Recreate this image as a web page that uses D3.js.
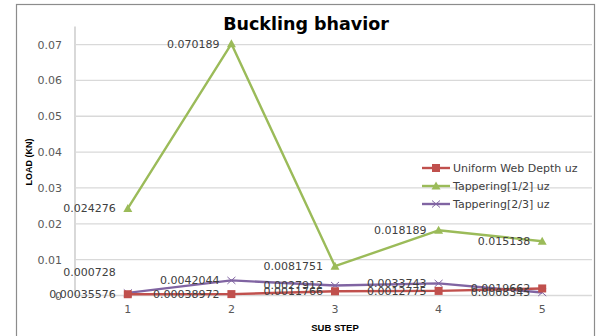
<!DOCTYPE html>
<html>
<head>
<meta charset="utf-8">
<script src="https://cdn.jsdelivr.net/npm/d3@7"></script>
<style>
  html, body { margin: 0; padding: 0; background: #fff; }
  svg { display: block; }
</style>
</head>
<body>
<svg id="chart" width="597" height="336"></svg>
<script>
// Sub-step categories and load values (KN) for each web configuration
const subSteps = [1, 2, 3, 4, 5];
const uniformWebDepth = [0.00035576, 0.00038972, 0.0011766, 0.0012775, 0.0019662];
const tapering12 = [0.024276, 0.070189, 0.0081751, 0.018189, 0.015138];
const tapering23 = [0.000728, 0.0042044, 0.0027912, 0.0033743, 0.0008345];
const yTicks = [0, 0.01, 0.02, 0.03, 0.04, 0.05, 0.06, 0.07];
const seriesNames = ["Uniform Web Depth uz", "Tappering[1/2] uz", "Tappering[2/3] uz"];

const series = [
  { name: seriesNames[0], values: uniformWebDepth, color: "#C0504D", marker: "square" },
  { name: seriesNames[1], values: tapering12, color: "#9BBB59", marker: "triangle" },
  { name: seriesNames[2], values: tapering23, color: "#8064A2", marker: "cross" }
];

// Per-label nudges (dy) where a label sits away from its point
const labelDy = {
  "2-0": -21
};

const svg = d3.select("#chart");
const font = "'DejaVu Sans', Verdana, sans-serif";
const titleFont = "'Liberation Sans', Arial, sans-serif";

// Chart frame
svg.append("rect")
  .attr("x", 16.5).attr("y", 4.5).attr("width", 578).attr("height", 340)
  .attr("fill", "#fff").attr("stroke", "#8c8c8c").attr("stroke-width", 1.2);

const plot = { left: 76, right: 594, top: 26.6, bottom: 295.5 };

const x = d3.scaleBand().domain(subSteps).range([plot.left, plot.right]);
const y = d3.scaleLinear().domain([0, 0.075]).range([plot.bottom, plot.top]);
const cx = d => x(d) + x.bandwidth() / 2;

// Horizontal gridlines
svg.append("g").selectAll("line").data(yTicks).join("line")
  .attr("x1", plot.left).attr("x2", plot.right - 2)
  .attr("y1", d => y(d)).attr("y2", d => y(d))
  .attr("stroke", "#d9d9d9").attr("stroke-width", 1.3);

// Y axis
const yAxis = d3.axisLeft(y).tickValues(yTicks)
  .tickFormat(d => d === 0 ? "0" : d3.format(".2f")(d)).tickSize(0).tickPadding(13);
const gy = svg.append("g").attr("transform", `translate(${plot.left - 1},0)`).call(yAxis);
gy.select(".domain").attr("stroke", "#bfbfbf").attr("stroke-width", 1.2)
  .attr("d", `M0,${plot.top}V${plot.bottom}`);
gy.selectAll("text").attr("font-family", font).attr("font-size", 11).attr("fill", "#595959");

// X axis
const xAxis = d3.axisBottom(x).tickSize(0).tickPadding(10);
const gx = svg.append("g").attr("transform", `translate(0,${plot.bottom})`).call(xAxis);
gx.select(".domain").remove();
gx.selectAll("text").attr("font-family", font).attr("font-size", 11).attr("fill", "#595959");

// Title and axis titles
svg.append("text").attr("x", 306).attr("y", 30).attr("text-anchor", "middle")
  .attr("font-family", font).attr("font-weight", "bold").attr("font-size", 17.5)
  .attr("fill", "#000").text("Buckling bhavior");

svg.append("text").attr("transform", "translate(32,162) rotate(-90)")
  .attr("text-anchor", "middle").attr("font-family", titleFont)
  .attr("font-weight", "bold").attr("font-size", 9).attr("fill", "#000").text("LOAD (KN)");

svg.append("text").attr("x", 335).attr("y", 331).attr("text-anchor", "middle")
  .attr("font-family", titleFont)
  .attr("font-weight", "bold").attr("font-size", 9.5).attr("fill", "#000").text("SUB STEP");

// Marker drawing
function drawMarker(g, type, color) {
  if (type === "square") {
    g.append("rect").attr("x", -4).attr("y", -4).attr("width", 8).attr("height", 8).attr("fill", color);
  } else if (type === "triangle") {
    g.append("path").attr("d", "M0,-4.5L4.5,3.5L-4.5,3.5Z").attr("fill", color);
  } else {
    g.append("path").attr("d", "M-4,-3.5L4,3.5M-4,3.5L4,-3.5")
      .attr("stroke", color).attr("stroke-width", 1).attr("fill", "none");
  }
}

const line = d3.line().x((d, i) => cx(subSteps[i])).y(d => y(d));

// Draw series in stacking order: tapering[1/2], tapering[2/3], uniform on top
const drawOrder = [1, 2, 0];
drawOrder.forEach(si => {
  const s = series[si];
  const g = svg.append("g");
  g.append("path").datum(s.values).attr("d", line)
    .attr("fill", "none").attr("stroke", s.color).attr("stroke-width", 2.4)
    .attr("stroke-linejoin", "round");
  s.values.forEach((v, i) => {
    const m = g.append("g").attr("transform", `translate(${cx(subSteps[i])},${y(v)})`);
    drawMarker(m, s.marker, s.color);
  });
});

// Data labels to the left of each point
series.forEach((s, si) => {
  svg.append("g").selectAll("text").data(s.values).join("text")
    .attr("x", (d, i) => cx(subSteps[i]) - 12)
    .attr("y", (d, i) => y(d) + (labelDy[`${si}-${i}`] || 0))
    .attr("dy", "0.35em")
    .attr("text-anchor", "end")
    .attr("font-family", font).attr("font-size", 11).attr("fill", "#404040")
    .text(d => String(d));
});

// Legend
const legend = svg.append("g").attr("transform", "translate(422,168)");
series.forEach((s, i) => {
  const row = legend.append("g").attr("transform", `translate(0,${i * 18})`);
  row.append("line").attr("x1", 0).attr("x2", 28).attr("y1", 0).attr("y2", 0)
    .attr("stroke", s.color).attr("stroke-width", 2.4);
  const m = row.append("g").attr("transform", "translate(14,0)");
  drawMarker(m, s.marker, s.color);
  row.append("text").attr("x", 31).attr("y", 0).attr("dy", "0.35em")
    .attr("font-family", font).attr("font-size", 11).attr("fill", "#404040").text(s.name);
});
</script>
</body>
</html>
